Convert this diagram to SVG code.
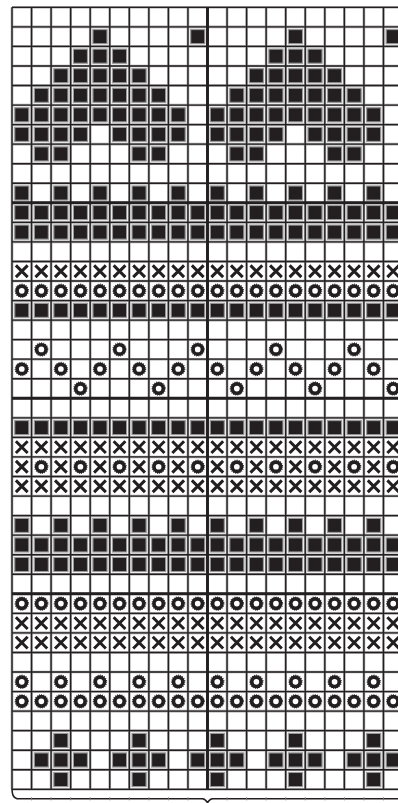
<svg xmlns="http://www.w3.org/2000/svg" xmlns:xlink="http://www.w3.org/1999/xlink" width="398" height="803" viewBox="0 0 398 803">
<style>
.gh{stroke:#a8a8a8;stroke-width:2.6;fill:none}
.gl{stroke:#231f20;stroke-width:1.35;fill:none}
.tk{stroke:#231f20;stroke-width:2.9;fill:none}
.br{stroke:#231f20;stroke-width:1.6;fill:none;stroke-linecap:round;stroke-linejoin:round}
</style>
<defs>
<g id="f"><rect x="2.7" y="2.7" width="14.15" height="14.15" fill="#231f20" stroke="#9a9a9a" stroke-width="1.2"/></g>
<g id="x"><path d="M3.9 3.9L15.65 15.65M15.65 3.9L3.9 15.65" stroke="#231f20" stroke-width="3" fill="none"/></g>
<g id="o"><circle cx="9.78" cy="9.78" r="6.6" fill="none" stroke="#231f20" stroke-width="1.2" stroke-dasharray="0.8 1.4"/><circle cx="9.78" cy="9.78" r="4.7" fill="none" stroke="#231f20" stroke-width="3.7"/></g>
<g id="rF"><use href="#f" x="0"/><use href="#f" x="19.55"/><use href="#f" x="39.1"/><use href="#f" x="58.65"/><use href="#f" x="78.2"/><use href="#f" x="97.75"/><use href="#f" x="117.3"/><use href="#f" x="136.85"/><use href="#f" x="156.4"/><use href="#f" x="175.95"/><use href="#f" x="195.5"/><use href="#f" x="215.05"/><use href="#f" x="234.6"/><use href="#f" x="254.15"/><use href="#f" x="273.7"/><use href="#f" x="293.25"/><use href="#f" x="312.8"/><use href="#f" x="332.35"/><use href="#f" x="351.9"/><use href="#f" x="371.45"/></g>
<g id="rFe"><use href="#f" x="0"/><use href="#f" x="39.1"/><use href="#f" x="78.2"/><use href="#f" x="117.3"/><use href="#f" x="156.4"/><use href="#f" x="195.5"/><use href="#f" x="234.6"/><use href="#f" x="273.7"/><use href="#f" x="312.8"/><use href="#f" x="351.9"/></g>
<g id="rXe"><use href="#x" x="0"/><use href="#x" x="39.1"/><use href="#x" x="78.2"/><use href="#x" x="117.3"/><use href="#x" x="156.4"/><use href="#x" x="195.5"/><use href="#x" x="234.6"/><use href="#x" x="273.7"/><use href="#x" x="312.8"/><use href="#x" x="351.9"/></g>
<g id="rXo"><use href="#x" x="19.55"/><use href="#x" x="58.65"/><use href="#x" x="97.75"/><use href="#x" x="136.85"/><use href="#x" x="175.95"/><use href="#x" x="215.05"/><use href="#x" x="254.15"/><use href="#x" x="293.25"/><use href="#x" x="332.35"/><use href="#x" x="371.45"/></g>
<g id="rOe"><use href="#o" x="0"/><use href="#o" x="39.1"/><use href="#o" x="78.2"/><use href="#o" x="117.3"/><use href="#o" x="156.4"/><use href="#o" x="195.5"/><use href="#o" x="234.6"/><use href="#o" x="273.7"/><use href="#o" x="312.8"/><use href="#o" x="351.9"/></g>
<g id="rOo"><use href="#o" x="19.55"/><use href="#o" x="58.65"/><use href="#o" x="97.75"/><use href="#o" x="136.85"/><use href="#o" x="175.95"/><use href="#o" x="215.05"/><use href="#o" x="254.15"/><use href="#o" x="293.25"/><use href="#o" x="332.35"/><use href="#o" x="371.45"/></g>
<g id="rX"><use href="#rXe"/><use href="#rXo"/></g>
<g id="rO"><use href="#rOe"/><use href="#rOo"/></g>
<path id="gv" d="M0 0V782M19.55 0V782M39.1 0V782M58.65 0V782M78.2 0V782M97.75 0V782M117.3 0V782M136.85 0V782M156.4 0V782M175.95 0V782M195.5 0V782M215.05 0V782M234.6 0V782M254.15 0V782M273.7 0V782M293.25 0V782M312.8 0V782M332.35 0V782M351.9 0V782M371.45 0V782M0 0H391M0 19.55H391M0 39.1H391M0 58.65H391M0 78.2H391M0 97.75H391M0 117.3H391M0 136.85H391M0 156.4H391M0 175.95H391M0 195.5H391M0 215.05H391M0 234.6H391M0 254.15H391M0 273.7H391M0 293.25H391M0 312.8H391M0 332.35H391M0 351.9H391M0 371.45H391M0 391H391M0 410.55H391M0 430.1H391M0 449.65H391M0 469.2H391M0 488.75H391M0 508.3H391M0 527.85H391M0 547.4H391M0 566.95H391M0 586.5H391M0 606.05H391M0 625.6H391M0 645.15H391M0 664.7H391M0 684.25H391M0 703.8H391M0 723.35H391M0 742.9H391M0 762.45H391M0 782H391"/>
</defs>
<rect width="398" height="803" fill="#ffffff"/>
<g id="chart" transform="translate(12,7.3)">
<g id="grid">
<use href="#gv" class="gh"/>
<use href="#gv" class="gl"/>
<path class="tk" d="M195.5 0V782M0 195.5H391M0 391H391M0 586.5H391"/>
</g>
<g id="cells">
<use href="#f" x="78.2" y="19.55"/><use href="#f" x="175.95" y="19.55"/><use href="#f" x="273.7" y="19.55"/><use href="#f" x="371.45" y="19.55"/>
<g transform="translate(0,39.1)"><use href="#f" x="58.65"/><use href="#f" x="78.2"/><use href="#f" x="97.75"/><use href="#f" x="254.15"/><use href="#f" x="273.7"/><use href="#f" x="293.25"/></g>
<g transform="translate(0,58.65)"><use href="#f" x="39.1"/><use href="#f" x="58.65"/><use href="#f" x="78.2"/><use href="#f" x="97.75"/><use href="#f" x="117.3"/><use href="#f" x="234.6"/><use href="#f" x="254.15"/><use href="#f" x="273.7"/><use href="#f" x="293.25"/><use href="#f" x="312.8"/></g>
<g transform="translate(0,78.2)"><use href="#f" x="19.55"/><use href="#f" x="39.1"/><use href="#f" x="58.65"/><use href="#f" x="78.2"/><use href="#f" x="97.75"/><use href="#f" x="117.3"/><use href="#f" x="136.85"/><use href="#f" x="215.05"/><use href="#f" x="234.6"/><use href="#f" x="254.15"/><use href="#f" x="273.7"/><use href="#f" x="293.25"/><use href="#f" x="312.8"/><use href="#f" x="332.35"/></g>
<g transform="translate(0,97.75)"><use href="#f" x="0"/><use href="#f" x="19.55"/><use href="#f" x="39.1"/><use href="#f" x="58.65"/><use href="#f" x="78.2"/><use href="#f" x="97.75"/><use href="#f" x="117.3"/><use href="#f" x="136.85"/><use href="#f" x="156.4"/><use href="#f" x="195.5"/><use href="#f" x="215.05"/><use href="#f" x="234.6"/><use href="#f" x="254.15"/><use href="#f" x="273.7"/><use href="#f" x="293.25"/><use href="#f" x="312.8"/><use href="#f" x="332.35"/><use href="#f" x="351.9"/></g>
<g transform="translate(0,117.3)"><use href="#f" x="0"/><use href="#f" x="19.55"/><use href="#f" x="39.1"/><use href="#f" x="58.65"/><use href="#f" x="97.75"/><use href="#f" x="117.3"/><use href="#f" x="136.85"/><use href="#f" x="156.4"/><use href="#f" x="195.5"/><use href="#f" x="215.05"/><use href="#f" x="234.6"/><use href="#f" x="254.15"/><use href="#f" x="293.25"/><use href="#f" x="312.8"/><use href="#f" x="332.35"/><use href="#f" x="351.9"/></g>
<g transform="translate(0,136.85)"><use href="#f" x="19.55"/><use href="#f" x="39.1"/><use href="#f" x="117.3"/><use href="#f" x="136.85"/><use href="#f" x="215.05"/><use href="#f" x="234.6"/><use href="#f" x="312.8"/><use href="#f" x="332.35"/></g>
<use href="#rFe" y="175.95"/>
<use href="#rF" y="195.5"/>
<use href="#rF" y="215.05"/>
<use href="#rX" y="254.15"/>
<use href="#rO" y="273.7"/>
<use href="#rF" y="293.25"/>
<g transform="translate(0,332.35)"><use href="#o" x="19.55"/><use href="#o" x="97.75"/><use href="#o" x="175.95"/><use href="#o" x="254.15"/><use href="#o" x="332.35"/></g>
<use href="#rOe" y="351.9"/>
<g transform="translate(0,371.45)"><use href="#o" x="58.65"/><use href="#o" x="136.85"/><use href="#o" x="215.05"/><use href="#o" x="293.25"/><use href="#o" x="371.45"/></g>
<use href="#rF" y="410.55"/>
<use href="#rX" y="430.1"/>
<use href="#rXe" y="449.65"/><use href="#rOo" y="449.65"/>
<use href="#rX" y="469.2"/>
<use href="#rFe" y="508.3"/>
<use href="#rF" y="527.85"/>
<use href="#rF" y="547.4"/>
<use href="#rO" y="586.5"/>
<use href="#rX" y="606.05"/>
<use href="#rX" y="625.6"/>
<use href="#rOe" y="664.7"/>
<use href="#rO" y="684.25"/>
<g transform="translate(0,723.35)"><use href="#f" x="39.1"/><use href="#f" x="117.3"/><use href="#f" x="195.5"/><use href="#f" x="273.7"/><use href="#f" x="351.9"/></g>
<g transform="translate(0,742.9)"><use href="#f" x="19.55"/><use href="#f" x="39.1"/><use href="#f" x="58.65"/><use href="#f" x="97.75"/><use href="#f" x="117.3"/><use href="#f" x="136.85"/><use href="#f" x="175.95"/><use href="#f" x="195.5"/><use href="#f" x="215.05"/><use href="#f" x="254.15"/><use href="#f" x="273.7"/><use href="#f" x="293.25"/><use href="#f" x="332.35"/><use href="#f" x="351.9"/><use href="#f" x="371.45"/></g>
<g transform="translate(0,762.45)"><use href="#f" x="39.1"/><use href="#f" x="117.3"/><use href="#f" x="195.5"/><use href="#f" x="273.7"/><use href="#f" x="351.9"/></g>
</g>
</g>
<g id="brace">
<path class="br" d="M12 789.5C12.3 794 12.8 797.5 17 798.8H202.5C205 799 206.5 801 207.5 802.6C208.5 801 210 799 212.5 798.8H400"/>
<path stroke="#7a7a7a" stroke-width="1" fill="none" d="M31.55 797.3v3M51.1 797.3v3M70.65 797.3v3M90.2 797.3v3M109.75 797.3v3M129.3 797.3v3M148.85 797.3v3M168.4 797.3v3M187.95 797.3v3M227.05 797.3v3M246.6 797.3v3M266.15 797.3v3M285.7 797.3v3M305.25 797.3v3M324.8 797.3v3M344.35 797.3v3M363.9 797.3v3M383.45 797.3v3"/>
</g>
</svg>
